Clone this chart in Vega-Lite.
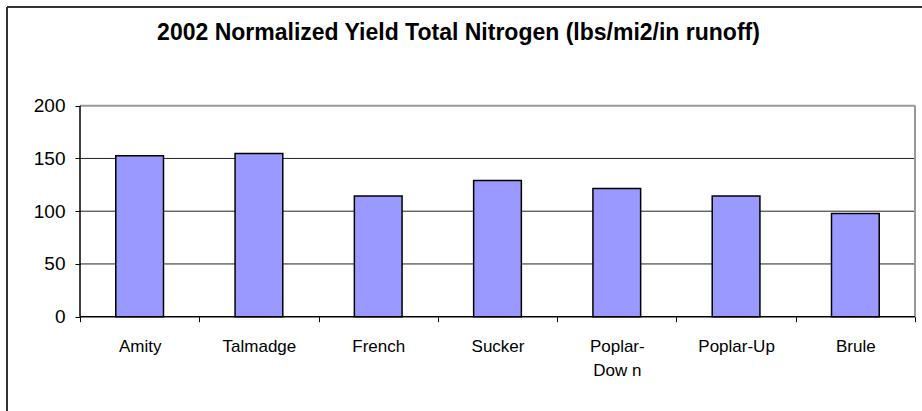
{
  "$schema": "https://vega.github.io/schema/vega-lite/v6.json",
  "width": 915,
  "height": 404,
  "autosize": "none",
  "padding": {"left": 7, "top": 7, "right": 0, "bottom": 0},
  "background": "white",
  "config": {"view": {"stroke": null}, "font": "Liberation Sans"},
  "title": {
    "text": "2002 Normalized Yield Total Nitrogen (lbs/mi2/in runoff)",
    "fontSize": 23,
    "fontWeight": "bold",
    "font": "Liberation Sans",
    "color": "#000000",
    "anchor": "middle",
    "frame": "group",
    "orient": "top",
    "baseline": "alphabetic",
    "offset": -57,
    "dx": -6
  },
  "datasets": {
    "lines": [
      {"kind": "grid", "x": 0, "x2": 1, "y": 50, "y2": 50},
      {"kind": "grid", "x": 0, "x2": 1, "y": 100, "y2": 100},
      {"kind": "grid", "x": 0, "x2": 1, "y": 150, "y2": 150},
      {"kind": "frame", "x": 0, "x2": 1, "y": 200, "y2": 200},
      {"kind": "frame", "x": 1, "x2": 1, "y": 0, "y2": 200},
      {"kind": "axis", "x": 0, "x2": 1, "y": 0, "y2": 0},
      {"kind": "axis", "x": 0, "x2": 0, "y": 0, "y2": 200},
      {"kind": "border", "x": -0.08743, "x2": 1.00838, "y": 293.55, "y2": 293.55},
      {"kind": "border", "x": -0.08743, "x2": -0.08743, "y": 293.55, "y2": -89.38}
    ],
    "sites": [
      {"site": "Amity", "yield": 152.5},
      {"site": "Talmadge", "yield": 154.7},
      {"site": "French", "yield": 114.3},
      {"site": "Sucker", "yield": 129.2},
      {"site": "Poplar-Down", "yield": 121.6},
      {"site": "Poplar-Up", "yield": 114.3},
      {"site": "Brule", "yield": 97.9}
    ]
  },
  "layer": [
    {
      "data": {"name": "lines"},
      "transform": [{"filter": "datum.kind == 'grid'"}],
      "mark": {"type": "rule", "color": "#222222", "strokeWidth": 1},
      "encoding": {
        "x": {"field": "x", "type": "quantitative", "scale": {"domain": [-0.08743, 1.00838], "nice": false, "zero": false}, "axis": null},
        "x2": {"field": "x2"},
        "y": {
          "field": "y", "type": "quantitative",
          "scale": {"domain": [-89.38, 293.55], "nice": false, "zero": false},
          "axis": {"title": null, "orient": "left", "offset": -73, "values": [0, 50, 100, 150, 200], "domain": false, "grid": false, "ticks": true, "tickSize": 5, "tickColor": "#000000", "labelFontSize": 19, "labelColor": "#000000", "labelFont": "Liberation Sans", "labelPadding": 10}
        },
        "y2": {"field": "y2"}
      }
    },
    {
      "data": {"name": "lines"},
      "transform": [{"filter": "datum.kind == 'frame'"}],
      "mark": {"type": "rule", "color": "#999999", "strokeWidth": 2},
      "encoding": {
        "x": {"field": "x", "type": "quantitative", "scale": {"domain": [-0.08743, 1.00838], "nice": false, "zero": false}, "axis": null},
        "x2": {"field": "x2"},
        "y": {
          "field": "y", "type": "quantitative",
          "scale": {"domain": [-89.38, 293.55], "nice": false, "zero": false},
          "axis": {"title": null, "orient": "left", "offset": -73, "values": [0, 50, 100, 150, 200], "domain": false, "grid": false, "ticks": true, "tickSize": 5, "tickColor": "#000000", "labelFontSize": 19, "labelColor": "#000000", "labelFont": "Liberation Sans", "labelPadding": 10}
        },
        "y2": {"field": "y2"}
      }
    },
    {
      "data": {"name": "sites"},
      "mark": {"type": "bar", "width": {"band": 0.4}, "fill": "#9999FF", "stroke": "#000000", "strokeWidth": 1.5},
      "encoding": {
        "x": {
          "field": "site",
          "type": "nominal",
          "sort": null,
          "scale": {"paddingInner": 0, "paddingOuter": 0.3353, "align": 0.9125},
          "axis": {
            "title": null,
            "orient": "bottom",
            "offset": -94.3,
            "domain": false,
            "grid": false,
            "ticks": true,
            "tickBand": "extent",
            "tickSize": 5,
            "tickColor": "#000000",
            "tickWidth": 1,
            "labelAngle": 0,
            "labelFontSize": 17,
            "labelColor": "#000000",
            "labelFont": "Liberation Sans",
            "labelPadding": 17,
            "labelLineHeight": 24,
            "labelOverlap": false,
            "labelLimit": 0,
            "labelExpr": "datum.value == 'Poplar-Down' ? ['Poplar-', 'Dow n'] : datum.value"
          }
        },
        "y": {
          "field": "yield", "type": "quantitative",
          "scale": {"domain": [-89.38, 293.55], "nice": false, "zero": false},
          "axis": {"title": null, "orient": "left", "offset": -73, "values": [0, 50, 100, 150, 200], "domain": false, "grid": false, "ticks": true, "tickSize": 5, "tickColor": "#000000", "labelFontSize": 19, "labelColor": "#000000", "labelFont": "Liberation Sans", "labelPadding": 10}
        },
        "y2": {"datum": 0}
      }
    },
    {
      "data": {"name": "lines"},
      "transform": [{"filter": "datum.kind == 'axis'"}],
      "mark": {"type": "rule", "color": "#000000", "strokeWidth": 1.5},
      "encoding": {
        "x": {"field": "x", "type": "quantitative", "scale": {"domain": [-0.08743, 1.00838], "nice": false, "zero": false}, "axis": null},
        "x2": {"field": "x2"},
        "y": {
          "field": "y", "type": "quantitative",
          "scale": {"domain": [-89.38, 293.55], "nice": false, "zero": false},
          "axis": {"title": null, "orient": "left", "offset": -73, "values": [0, 50, 100, 150, 200], "domain": false, "grid": false, "ticks": true, "tickSize": 5, "tickColor": "#000000", "labelFontSize": 19, "labelColor": "#000000", "labelFont": "Liberation Sans", "labelPadding": 10}
        },
        "y2": {"field": "y2"}
      }
    },
    {
      "data": {"name": "lines"},
      "transform": [{"filter": "datum.kind == 'border'"}],
      "mark": {"type": "rule", "color": "#333333", "strokeWidth": 2},
      "encoding": {
        "x": {"field": "x", "type": "quantitative", "scale": {"domain": [-0.08743, 1.00838], "nice": false, "zero": false}, "axis": null},
        "x2": {"field": "x2"},
        "y": {
          "field": "y", "type": "quantitative",
          "scale": {"domain": [-89.38, 293.55], "nice": false, "zero": false},
          "axis": {"title": null, "orient": "left", "offset": -73, "values": [0, 50, 100, 150, 200], "domain": false, "grid": false, "ticks": true, "tickSize": 5, "tickColor": "#000000", "labelFontSize": 19, "labelColor": "#000000", "labelFont": "Liberation Sans", "labelPadding": 10}
        },
        "y2": {"field": "y2"}
      }
    }
  ],
  "resolve": {"scale": {"x": "independent"}}
}
